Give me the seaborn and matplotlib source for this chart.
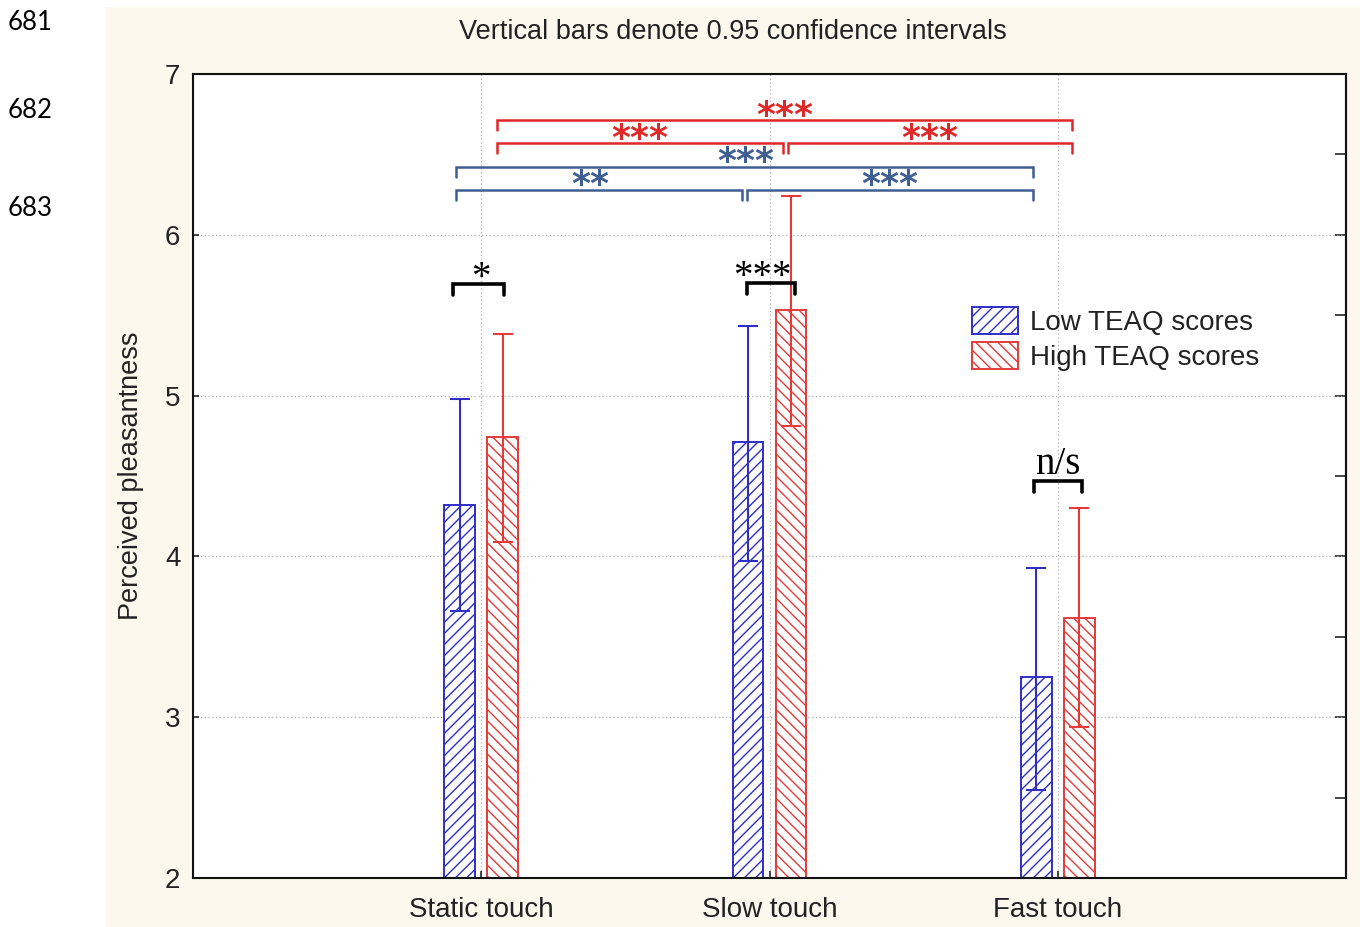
import numpy as np
import pandas as pd
import matplotlib
matplotlib.use('Agg')
import matplotlib.pyplot as plt
import matplotlib.patches as mpatches
import seaborn as sns

# --- Data ---
touch = ['Static touch', 'Slow touch', 'Fast touch']
groups = ['Low TEAQ scores', 'High TEAQ scores']
low_mean = [4.32, 4.71, 3.25]
low_ci_lo = [3.66, 3.97, 2.55]
low_ci_hi = [4.98, 5.43, 3.93]
high_mean = [4.74, 5.53, 3.62]
high_ci_lo = [4.09, 4.81, 2.94]
high_ci_hi = [5.38, 6.24, 4.30]
line_numbers = ['681', '682', '683']

# significance brackets: (x_left, x_right, y, label, label_x)
red_brackets = [(0.055, 2.049, 6.714, '***', 1.054),
                (0.055, 1.047, 6.571, '***', 0.551),
                (1.064, 2.049, 6.571, '***', 1.556)]
blue_brackets = [(-0.087, 1.913, 6.422, '***', 0.919),
                 (-0.087, 0.905, 6.279, '**', 0.378),
                 (0.922, 1.913, 6.279, '***', 1.418)]
black_brackets = [(-0.097, 0.080, 5.694, '*', -0.003),
                  (0.922, 1.088, 5.700, '***', 0.974),
                  (1.917, 2.083, 4.469, 'n/s', 2.0)]

df = pd.DataFrame({
    'touch': touch * 2,
    'group': [groups[0]] * 3 + [groups[1]] * 3,
    'value': low_mean + high_mean,
})

BLUE = '#2f2fc8'
RED = '#e43a3a'
BR_BLUE = '#3f5f93'
BR_RED = '#e02828'

sns.set_style('ticks')
plt.rcParams['font.family'] = ['Liberation Sans', 'DejaVu Sans']
plt.rcParams['hatch.linewidth'] = 1.0

fig = plt.figure(figsize=(13.6, 9.27), dpi=100)
fig.patches.append(mpatches.Rectangle((106 / 1360, 0), 1 - 106 / 1360, 1 - 7 / 927,
                                      transform=fig.transFigure, facecolor='#fcf8ee',
                                      edgecolor='none', zorder=-10))
ax = fig.add_axes([193 / 1360, 49 / 927, 1153 / 1360, 804 / 927])
ax.set_facecolor('white')

sns.barplot(data=df, x='touch', y='value', hue='group', order=touch, hue_order=groups,
            palette=[BLUE, RED], width=0.298, gap=0.28, errorbar=None, legend=False, ax=ax)

colors = [BLUE, RED]
hatches = ['///', '\\\\\\']
cis = [(low_mean, low_ci_lo, low_ci_hi), (high_mean, high_ci_lo, high_ci_hi)]
bar_groups = list(ax.containers)[:2]
for i, cont in enumerate(bar_groups):
    xs = []
    for bar in cont:
        bar.set_facecolor('white')
        bar.set_edgecolor(colors[i])
        bar.set_hatch(hatches[i])
        bar.set_linewidth(1.4)
        xs.append(bar.get_x() + bar.get_width() / 2)
    m, lo, hi = (np.array(a) for a in cis[i])
    ax.errorbar(xs, m, yerr=[m - lo, hi - m], fmt='none', ecolor=colors[i],
                elinewidth=1.5, capsize=7, capthick=1.5, zorder=5)

ax.set_xlim(-1, 3)
ax.set_ylim(2, 7)
ax.set_yticks(range(2, 8))
ax.set_xlabel('')
ax.set_ylabel('')
ax.grid(True, linestyle=(0, (1, 2)), color='#b0b0b0', linewidth=0.9)
ax.set_axisbelow(True)
ax.tick_params(axis='y', direction='in', length=4, width=1.2, pad=9, labelsize=20,
               labelcolor='#222222')
ax.tick_params(axis='x', direction='in', length=5, width=1.2, pad=14, labelsize=20,
               labelcolor='#222222')
for s in ax.spines.values():
    s.set_visible(True)
    s.set_linewidth(1.5)
    s.set_color('#111111')

sec = ax.secondary_yaxis('right')
sec.set_yticks(np.arange(2, 7.01, 0.5))
sec.set_yticklabels([])
sec.tick_params(direction='in', length=8, width=1.2)
sec.spines['right'].set_linewidth(1.5)


def bracket(x1, x2, y, drop, color, lw):
    ax.plot([x1, x1, x2, x2], [y - drop, y, y, y - drop], color=color, lw=lw,
            solid_joinstyle='miter', zorder=6)


for brs, col in [(red_brackets, BR_RED), (blue_brackets, BR_BLUE)]:
    for x1, x2, y, lab, lx in brs:
        bracket(x1, x2, y, 0.062, col, 1.8)
        ax.annotate(lab, (lx, y), xytext=(0, -4), textcoords='offset points',
                    ha='center', va='baseline', color=col, fontsize=26,
                    fontweight='bold', family='DejaVu Sans', zorder=7)
for x1, x2, y, lab, lx in black_brackets:
    bracket(x1, x2, y, 0.068, 'black', 2.6)
    dy = 5 if lab == 'n/s' else -3
    ax.annotate(lab, (lx, y), xytext=(0, dy), textcoords='offset points',
                ha='center', va='baseline', color='black', fontsize=28,
                family='Liberation Serif', zorder=7)

handles = [mpatches.Patch(facecolor='white', edgecolor=colors[i], hatch=hatches[i],
                          linewidth=1.4, label=groups[i]) for i in range(2)]
ax.legend(handles=handles, loc='upper left', bbox_to_anchor=(0.6756, 0.71),
          frameon=False, fontsize=20, handlelength=1.65, handleheight=1.1,
          handletextpad=0.45, labelspacing=0.22, borderpad=0, borderaxespad=0,
          labelcolor='#222222')

fig.text(733 / 1360, 1 - 32 / 927, 'Vertical bars denote 0.95 confidence intervals',
         ha='center', va='center', fontsize=19.5, color='#222222')
fig.text(131 / 1360, 1 - 476 / 927, 'Perceived pleasantness', rotation=90,
         ha='center', va='center', fontsize=19.5, color='#222222')
for lab, py in zip(line_numbers, [22, 111, 209]):
    fig.text(8 / 1360, 1 - py / 927, lab, ha='left', va='center', fontsize=18.5,
             family='Lato', color='black')

fig.savefig('out.png', dpi=100)
